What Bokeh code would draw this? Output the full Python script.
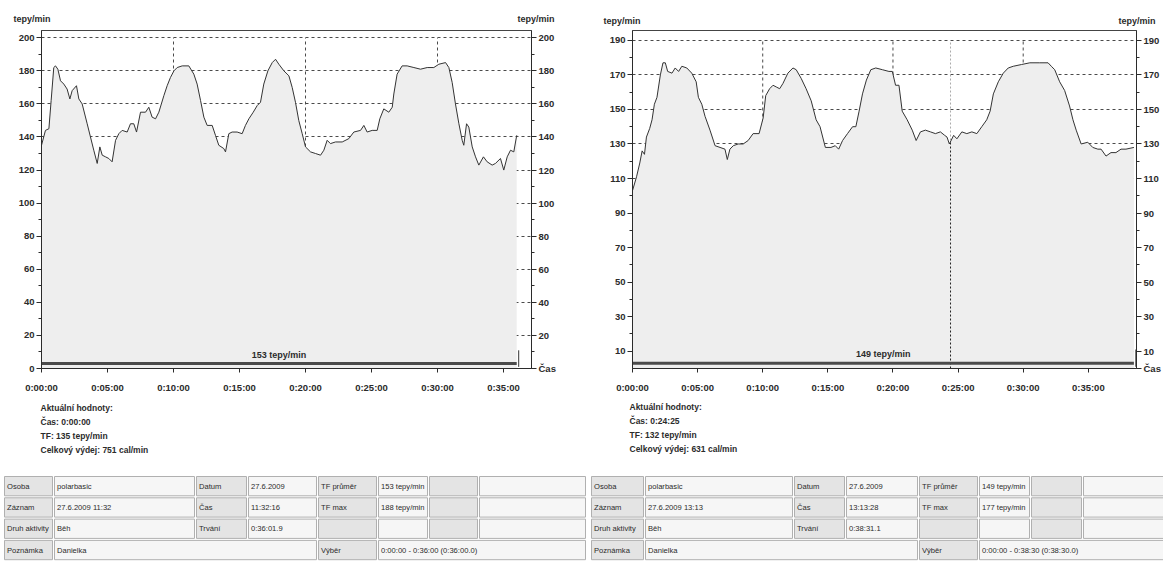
from bokeh.plotting import figure
from bokeh.layouts import row, column
from bokeh.models import Range1d, FixedTicker, LinearAxis, Label, CustomJSTickFormatter
from bokeh.embed import file_html
from bokeh.resources import INLINE
from bokeh.core.properties import value

FONT = "Liberation Sans"
INK = "#2b2b2b"
GRID = "#4a4a4a"
FILL = "#eeeeee"

# ---------------- data ----------------
# recording 1 (time in minutes, heart rate in bpm)
time_a = [0.0, 0.30, 0.56, 0.73, 0.93, 1.06, 1.24, 1.44, 1.69, 1.94,
          2.15, 2.32, 2.65, 2.83, 3.08, 3.46, 3.71, 3.96, 4.22, 4.42,
          4.60, 4.85, 5.10, 5.35, 5.61, 5.86, 6.11, 6.49, 6.74, 6.99,
          7.20, 7.50, 7.88, 8.13, 8.38, 8.64, 8.89, 9.27, 9.52, 9.77,
          10.03, 10.28, 10.66, 11.16, 11.54, 11.79, 12.05, 12.30, 12.55, 12.93,
          13.18, 13.43, 13.81, 13.94, 14.19, 14.44, 14.82, 15.20, 15.45, 15.71,
          16.04, 16.34, 16.59, 16.84, 17.15, 17.48, 17.73, 17.98, 18.36, 18.74,
          18.99, 19.24, 19.49, 19.75, 20.00, 20.38, 20.76, 21.14, 21.39, 21.64,
          21.89, 22.27, 22.78, 23.28, 23.66, 24.17, 24.42, 24.67, 25.05, 25.43,
          25.63, 25.93, 26.31, 26.57, 26.69, 26.94, 27.32, 27.70, 28.21, 28.71,
          29.22, 29.72, 30.10, 30.61, 30.86, 31.11, 31.36, 31.62, 31.87, 31.99,
          32.20, 32.37, 32.63, 32.88, 33.13, 33.48, 33.76, 34.14, 34.39, 34.77,
          35.02, 35.28, 35.53, 35.78, 36.0]
hr_a = [135, 144, 145, 162, 182, 183, 181, 174, 172, 169,
        163, 168, 171, 163, 160, 148, 140, 132, 124, 134,
        129, 128, 127, 125, 138, 142, 144, 143, 148, 148,
        143, 155, 155, 158, 152, 151, 155, 165, 171, 176,
        180, 182, 183, 183, 178, 172, 162, 152, 147, 147,
        141, 135, 133, 131, 142, 143, 143, 142, 147, 151,
        155, 159, 161, 172, 180, 185, 187, 184, 180, 177,
        170, 161, 150, 142, 134, 131, 130, 129, 132, 138,
        136, 137, 137, 139, 143, 144, 147, 143, 144, 144,
        151, 157, 155, 158, 166, 178, 183, 183, 182, 181,
        182, 182, 184, 185, 182, 173, 160, 148, 138, 135,
        148, 146, 134, 128, 123, 128, 125, 123, 124, 127,
        120, 128, 132, 131, 141]

# recording 2
time_b = [0.0, 0.31, 0.56, 0.74, 0.92, 1.07, 1.32, 1.50, 1.68, 1.88,
          2.14, 2.34, 2.52, 2.70, 3.03, 3.28, 3.54, 3.79, 4.17, 4.55,
          4.89, 5.06, 5.32, 5.57, 5.95, 6.34, 6.72, 7.10, 7.28, 7.48,
          7.74, 8.12, 8.50, 8.88, 9.26, 9.72, 10.03, 10.23, 10.53, 10.79,
          11.04, 11.30, 11.55, 11.93, 12.32, 12.57, 12.95, 13.33, 13.72, 14.10,
          14.40, 14.81, 15.24, 15.57, 15.83, 16.13, 16.51, 16.90, 17.15, 17.40,
          17.66, 17.96, 18.30, 18.68, 19.19, 19.69, 19.95, 20.20, 20.46, 20.71,
          21.09, 21.48, 21.78, 22.11, 22.49, 22.88, 23.26, 23.64, 23.97, 24.15,
          24.33, 24.66, 24.91, 25.29, 25.67, 26.06, 26.44, 26.82, 27.20, 27.46,
          27.71, 28.09, 28.47, 28.85, 29.24, 29.87, 30.51, 31.27, 31.91, 32.16,
          32.42, 32.80, 33.18, 33.56, 33.82, 34.07, 34.45, 34.96, 35.34, 35.73,
          35.98, 36.36, 36.74, 37.12, 37.51, 37.89, 38.5]
hr_b = [103, 111, 119, 126, 124, 134, 139, 144, 153, 157,
        170, 177, 177, 172, 171, 174, 172, 175, 174, 171,
        166, 157, 153, 146, 138, 129, 128, 127, 121, 127,
        129, 130, 130, 132, 136, 136, 145, 158, 162, 164,
        163, 162, 165, 171, 174, 173, 168, 162, 155, 144,
        140, 128, 128, 129, 127, 132, 136, 140, 140, 149,
        159, 167, 173, 174, 173, 172, 172, 164, 164, 149,
        144, 138, 132, 137, 138, 137, 136, 137, 135, 134,
        130, 135, 133, 137, 136, 137, 136, 140, 144, 149,
        159, 166, 171, 174, 175, 176, 177, 177, 177, 175,
        173, 166, 161, 152, 144, 138, 130, 131, 128, 127,
        127, 123, 125, 125, 127, 127, 128]

time_ticks = [0, 5, 10, 15, 20, 25, 30, 35]
time_grid = [10, 20, 30]
hr_ticks_a = [0, 20, 40, 60, 80, 100, 120, 140, 160, 180, 200]
hr_minor_a = [10, 30, 50, 70, 90, 110, 130, 150, 170, 190]
hr_ticks_b = [10, 30, 50, 70, 90, 110, 130, 150, 170, 190]
hr_minor_b = [20, 40, 60, 80, 100, 120, 140, 160, 180]

selection_a = [0.0, 36.0]
selection_b = [0.0, 38.5]
avg_label_a = "153 tepy/min"
avg_label_b = "149 tepy/min"
cursor_a = [0.0, 135]
cursor_b = [24.42, 132]

info_lines_a = ["Aktuální hodnoty:", "Čas: 0:00:00", "TF: 135 tepy/min", "Celkový výdej: 751 cal/min"]
info_lines_b = ["Aktuální hodnoty:", "Čas: 0:24:25", "TF: 132 tepy/min", "Celkový výdej: 631 cal/min"]

table_a = [
    ["Osoba", "polarbasic", "Datum", "27.6.2009", "TF průměr", "153 tepy/min", "", ""],
    ["Záznam", "27.6.2009 11:32", "Čas", "11:32:16", "TF max", "188 tepy/min", "", ""],
    ["Druh aktivity", "Běh", "Trvání", "0:36:01.9", "", "", "", ""],
]
note_a = ["Poznámka", "Danielka", "Výběr", "0:00:00 - 0:36:00 (0:36:00.0)"]
table_b = [
    ["Osoba", "polarbasic", "Datum", "27.6.2009", "TF průměr", "149 tepy/min", "", ""],
    ["Záznam", "27.6.2009 13:13", "Čas", "13:13:28", "TF max", "177 tepy/min", "", ""],
    ["Druh aktivity", "Běh", "Trvání", "0:38:31.1", "", "", "", ""],
]
note_b = ["Poznámka", "Danielka", "Výběr", "0:00:00 - 0:38:30 (0:38:30.0)"]

TIME_FMT = ("const s = Math.round(tick*60); const h = Math.floor(s/3600);"
            "const m = Math.floor((s%3600)/60); const x = s%60;"
            "return h + ':' + (m<10?'0':'') + m + ':' + (x<10?'0':'') + x;")
RIGHT_FMT = "return tick == 0 ? 'Čas' : String(tick);"


def style_label(obj, size="9px"):
    obj.text_font = FONT
    obj.text_font_size = size
    obj.text_color = INK
    obj.text_font_style = "bold"


def canvas(W, H):
    p = figure(width=W, height=H, x_range=Range1d(0, W), y_range=Range1d(H, 0),
               x_axis_type=None, y_axis_type=None, output_backend="svg", toolbar_location=None,
               min_border=0, outline_line_color=None,
               background_fill_color="white", border_fill_color="white")
    return p


def header(W, H, xs, ys):
    p = canvas(W, H)
    p.text(x=xs, y=ys, text=["tepy/min"] * len(xs), text_font=value(FONT), text_font_size="9px",
           text_font_style="bold", text_color=INK, text_baseline="middle")
    return p


def chart(t, hr, W, H, x_end, y0, y1, yt, ym, yt_right, sel, avg, cur, borders):
    bl, br, bt, bb = borders
    p = figure(width=W, height=H, x_range=Range1d(0, x_end), y_range=Range1d(y0, y1),
               output_backend="svg", toolbar_location=None,
               min_border_left=bl, min_border_right=br, min_border_top=bt, min_border_bottom=bb,
               background_fill_color="white", border_fill_color="white",
               outline_line_color="#444444", outline_line_width=1)
    xa = p.xaxis[0]
    xa.ticker = FixedTicker(ticks=time_ticks, minor_ticks=[])
    xa.formatter = CustomJSTickFormatter(code=TIME_FMT)
    xa.major_tick_out = 4
    xa.major_tick_in = 0
    xa.major_label_standoff = 9
    ya = p.yaxis[0]
    ya.ticker = FixedTicker(ticks=yt, minor_ticks=ym)
    yr = LinearAxis()
    p.add_layout(yr, "right")
    yr.ticker = FixedTicker(ticks=yt_right, minor_ticks=ym)
    yr.formatter = CustomJSTickFormatter(code=RIGHT_FMT)
    for ax in (ya, yr):
        ax.major_tick_out = 5
        ax.major_tick_in = 0
        ax.minor_tick_out = 3
        ax.minor_tick_in = 0
        ax.major_label_standoff = 2
    for ax in (xa, ya, yr):
        ax.axis_line_color = INK
        ax.major_tick_line_color = INK
        ax.minor_tick_line_color = INK
        ax.major_label_text_font = FONT
        ax.major_label_text_font_size = "9.5px"
        ax.major_label_text_font_style = "bold"
        ax.major_label_text_color = INK
    p.xgrid.visible = False
    p.ygrid.ticker = FixedTicker(ticks=[v for v in yt if v > y0])
    p.ygrid.grid_line_color = GRID
    p.ygrid.grid_line_dash = "3 3"
    p.ygrid.grid_line_width = 1

    # vertical grid lines (beneath the filled area)
    p.segment(x0=time_grid, x1=time_grid, y0=[y0] * len(time_grid), y1=[yt[-1]] * len(time_grid),
              line_color=GRID, line_dash="3 3", line_width=1)
    p.varea(x=t, y1=y0, y2=hr, fill_color=FILL)
    p.line(t, hr, line_color="#333333", line_width=1)

    # cursor
    if cur[0] > 0:
        p.segment(x0=[cur[0]], x1=[cur[0]], y0=[y0], y1=[cur[1]],
                  line_color="#222222", line_dash="2 2", line_width=1)
        p.segment(x0=[cur[0]], x1=[cur[0]], y0=[cur[1]], y1=[yt[-1]],
                  line_color="#aaaaaa", line_dash="2 2", line_width=1)

    # selection bar with average, and end-of-selection marker
    p.segment(x0=[sel[0]], x1=[sel[1]], y0=[y0 + 3], y1=[y0 + 3], line_color="#4a4a4a", line_width=3)
    p.segment(x0=[sel[1] + 0.15], x1=[sel[1] + 0.15], y0=[y0 + 1], y1=[y0 + 11],
              line_color="#333333", line_width=1)
    lab = Label(x=(sel[0] + sel[1]) / 2, y=y0 + 3, y_offset=4, text=avg,
                text_align="center", text_baseline="bottom")
    style_label(lab, "9px")
    p.add_layout(lab)
    return p


def info(W, H, lines, lx, ly, rows, note, colx, top, rh):
    p = canvas(W, H)
    p.text(x=[lx] * len(lines), y=[ly + i * 14 for i in range(len(lines))], text=lines,
           text_font=value(FONT), text_font_size="8.5px", text_font_style="bold",
           text_color=INK, text_baseline="middle")
    spans = [[(i, i + 1, txt) for i, txt in enumerate(r)] for r in rows]
    spans.append([(0, 1, note[0]), (1, 4, note[1]), (4, 5, note[2]), (5, 8, note[3])])
    L, R, T, B, C = [], [], [], [], []
    TX, TY, TT = [], [], []
    for r, cells in enumerate(spans):
        y_top = top + r * rh
        for c0, c1, txt in cells:
            L.append(colx[c0] + 1)
            R.append(colx[c1] - 1)
            T.append(y_top + 1)
            B.append(y_top + rh - 1)
            C.append("#e4e4e4" if c0 % 2 == 0 else "#f6f6f6")
            if txt:
                TX.append(colx[c0] + 3.5)
                TY.append(y_top + rh / 2)
                TT.append(txt)
    p.quad(left=L, right=R, top=T, bottom=B, fill_color=C, line_color="#b0b0b0", line_width=1)
    p.text(x=TX, y=TY, text=TT, text_font=value(FONT), text_font_size="7.6px",
           text_color=INK, text_baseline="middle")
    return p


# headers (page y 0..29)
h1 = header(588, 29, [13, 517], [18, 18])
h2 = header(575, 29, [15, 530], [20, 20])

# charts (page y 29..395); frames from y=30 to y=372
c1 = chart(time_a, hr_a, 588, 366, 37.12, 0, 204.4, hr_ticks_a, hr_minor_a, hr_ticks_a,
           selection_a, avg_label_a, cursor_a, (41, 57, 1, 23))
c2 = chart(time_b, hr_b, 575, 366, 38.7, 0, 195.7, hr_ticks_b, hr_minor_b, [0] + hr_ticks_b,
           selection_b, avg_label_b, cursor_b, (44, 24, 1, 23))

# info + tables (page y 395..561)
i1 = info(588, 166, info_lines_a, 40, 12, table_a, note_a,
          [3, 53, 195, 247, 317, 377, 428, 478, 586], 80, 21.3)
i2 = info(575, 166, info_lines_b, 41, 11, table_b, note_b,
          [2, 56, 205, 257, 330, 390, 442, 494, 580], 80, 21.3)

layout = column(row(h1, h2), row(c1, c2), row(i1, i2))
open("out.html", "w").write(file_html(layout, INLINE))
